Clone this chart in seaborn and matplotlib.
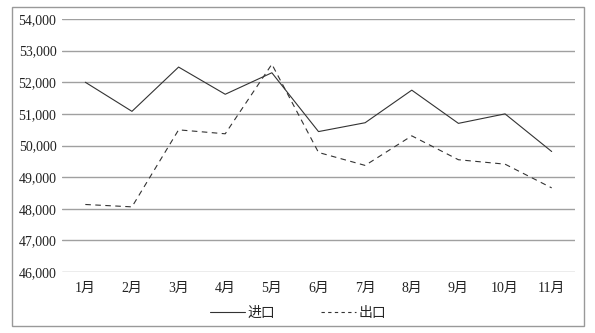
import matplotlib
matplotlib.use("Agg")
import matplotlib.pyplot as plt
import seaborn as sns
import pandas as pd
from matplotlib.patches import Rectangle
from matplotlib.ticker import FuncFormatter

months = ["1月", "2月", "3月", "4月", "5月", "6月", "7月", "8月", "9月", "10月", "11月"]
imports = [52000, 51080, 52480, 51620, 52300, 50440, 50720, 51750, 50700, 51000, 49810]
exports = [48135, 48060, 50495, 50370, 52570, 49780, 49370, 50305, 49550, 49410, 48660]
series_names = ["进口", "出口"]

sns.set_theme(style="white")
plt.rcParams['font.family'] = ['Liberation Serif', 'Noto Sans CJK SC']

df = pd.DataFrame({"月份": months * 2,
                   "值": imports + exports,
                   "类型": [series_names[0]] * len(months) + [series_names[1]] * len(months)})

fig = plt.figure(figsize=(5.95, 3.33), dpi=100)
W, H = 595, 333
ax = fig.add_axes([62 / W, 1 - 272 / H, (575 - 62) / W, (272 - 19) / H])

sns.lineplot(data=df, x="月份", y="值", style="类型", ax=ax, color="#333333",
             linewidth=0.8, dashes={"进口": "", "出口": (5, 4)}, sort=False,
             legend=True)

ax.set_xlim(-0.5, len(months) - 0.5)
ax.set_ylim(46000, 54000)
ax.set_yticks(range(46000, 54001, 1000))
ax.yaxis.set_major_formatter(FuncFormatter(lambda v, p: f"{int(v):,}"))
ax.grid(axis="y", color="#a0a0a0", linewidth=1.0)
ax.grid(axis="x", visible=False)
for s in ax.spines.values():
    s.set_visible(False)
ax.set_xlabel("")
ax.set_ylabel("")
ax.tick_params(axis="both", length=0, labelsize=10, colors="#222222", pad=4)
ax.tick_params(axis="x", pad=7)

handles, labels = ax.get_legend_handles_labels()
ax.legend_.remove()
for h in handles:
    if h.get_linestyle() not in ("-", "solid"):
        h.set_dashes((3, 3))
fig.legend(handles, labels, loc="center", bbox_to_anchor=(298 / W, 1 - 313 / H),
           ncol=2, frameon=False, fontsize=10, handlelength=2.5, columnspacing=3.3,
           handletextpad=0.2)

fig.patches.append(Rectangle((12 / W, 1 - 326 / H), (584 - 12) / W, (326 - 7) / H,
                             transform=fig.transFigure, fill=False,
                             edgecolor="#999999", linewidth=1.0))

fig.savefig("out.png", dpi=100)
